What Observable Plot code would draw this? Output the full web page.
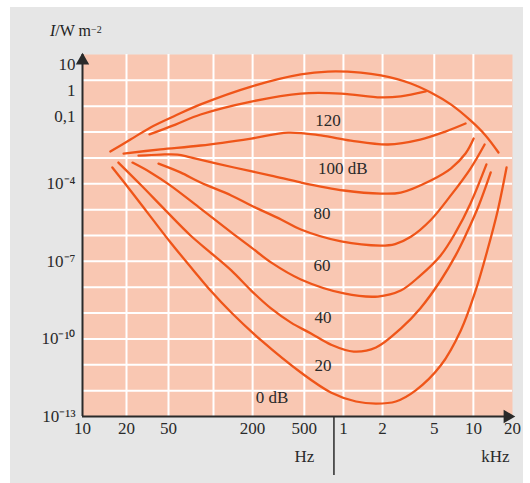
<!DOCTYPE html>
<html><head><meta charset="utf-8">
<script src="https://cdn.jsdelivr.net/npm/d3@7"></script>
<script src="https://cdn.jsdelivr.net/npm/@observablehq/plot@0.6"></script>
<style>
body{margin:0;background:#fff;}
#wrap{position:relative;width:530px;height:483px;overflow:hidden;}
#panel{position:absolute;left:10px;top:7px;width:513px;height:476px;background:#e6e6e6;}
#chart{position:absolute;left:0;top:0;}
#ylab{position:absolute;left:50px;top:22px;font:16px 'Liberation Serif',serif;color:#222;line-height:16px;white-space:nowrap;}
#ylab sup{font-size:10px;vertical-align:3px;}
</style></head>
<body><div id="wrap"><div id="panel"></div><div id="chart"></div><div id="ylab"><i>I</i>/W m<sup>−2</sup></div></div>
<script>
// frequencies (Hz) and intensity exponents (log10 of I in W m^-2)
const painHz   = [15.5, 21.8, 33.8, 55.7, 82, 195, 470, 760, 1360, 1940, 3300, 4700, 6700, 9500, 12400, 15600];
const painExp  = [-2.75, -2.29, -1.82, -1.36, -0.93, -0.24, 0.23, 0.34, 0.30, 0.19, -0.12, -0.47, -0.93, -1.55, -2.13, -2.79];
const feelHz   = [33, 55.7, 82, 195, 470, 960, 1940, 2760, 4300];
const feelExp  = [-2.09, -1.71, -1.32, -0.82, -0.51, -0.51, -0.66, -0.62, -0.43];
const db120Hz  = [19.1, 42, 82, 195, 375, 670, 1140, 2200, 3900, 6100, 8700];
const db120Exp = [-2.83, -2.67, -2.52, -2.25, -2.02, -2.13, -2.33, -2.48, -2.29, -1.98, -1.67];
const db100Hz  = [26, 42, 57.4, 70.2, 144, 277, 470, 1010, 1940, 2760, 4700, 6700, 8700, 10050];
const db100Exp = [-2.91, -2.87, -2.87, -2.98, -3.37, -3.68, -3.95, -4.26, -4.38, -4.34, -3.87, -3.41, -2.83, -2.25];
const db80Hz   = [40.2, 60.1, 82, 137, 195, 331, 470, 960, 1940, 2500, 3300, 4700, 6700, 9500, 12200];
const db80Exp  = [-3.22, -3.56, -3.95, -4.45, -4.84, -5.38, -5.77, -6.23, -6.39, -6.33, -6.05, -5.40, -4.45, -3.41, -2.48];
const db60Hz   = [22.8, 33.8, 51.6, 82, 137, 195, 277, 470, 1010, 1840, 2760, 3900, 5600, 7300, 9500, 12600];
const db60Exp  = [-3.18, -3.56, -4.07, -4.96, -5.88, -6.46, -7.04, -7.70, -8.24, -8.36, -8.13, -7.55, -6.77, -5.88, -4.76, -3.25];
const db40Hz   = [17.6, 27.1, 46.9, 70.2, 95.5, 137, 195, 277, 395, 563, 800, 1200, 1780, 2760, 3900, 5600, 7300, 8700, 11000, 13600];
const db40Exp  = [-3.18, -4.03, -5.03, -6.00, -6.66, -7.35, -8.13, -8.82, -9.37, -9.79, -10.22, -10.49, -10.33, -9.60, -8.82, -7.74, -6.77, -6.00, -4.84, -3.56];
const db20Hz   = [16, 21.8, 33.8, 51.6, 73.5, 95.5, 137, 233, 470, 800, 1250, 1780, 2530, 3600, 5600, 8000, 10400, 12800, 15400, 18000];
const db20Exp  = [-3.37, -4.26, -5.27, -6.27, -7.35, -8.13, -8.98, -10.06, -11.30, -12.07, -12.42, -12.50, -12.42, -11.99, -11.03, -9.67, -8.13, -6.58, -5.03, -3.37];

const curveLabels   = ["120", "100 dB", "80", "60", "40", "20", "0 dB"];
const curveLabelHz  = [760, 990, 684, 684, 696, 696, 282];
const curveLabelExp = [-1.55, -3.41, -5.15, -7.16, -9.17, -11.03, -12.27];

const xTicks      = [10, 20, 50, 200, 500, 1000, 2000, 5000, 10000, 20000];
const xTickLabels = ["10", "20", "50", "200", "500", "1", "2", "5", "10", "20"];
const xGrid       = [20, 50, 100, 200, 500, 1000, 2000, 5000, 10000];
const yTicksTop   = [10, 1, 0.1];
const yTicksLow   = [1e-4, 1e-7, 1e-10, 1e-13];
const yTickLabels = ["10", "1", "0,1", "10⁻⁴", "10⁻⁷", "10⁻¹⁰", "10⁻¹³"];
const yGrid       = [1, 0.1, 1e-2, 1e-3, 1e-4, 1e-5, 1e-6, 1e-7, 1e-8, 1e-9, 1e-10, 1e-11, 1e-12];
const splitHz     = 845;

const series = [
  ["pain", painHz, painExp], ["feel", feelHz, feelExp], ["120", db120Hz, db120Exp],
  ["100", db100Hz, db100Exp], ["80", db80Hz, db80Exp], ["60", db60Hz, db60Exp],
  ["40", db40Hz, db40Exp], ["20", db20Hz, db20Exp]
];
const rows = series.flatMap(([k, hz, ex]) => hz.map((f, i) => ({curve: k, f, I: Math.pow(10, ex[i])})));
const labelRows = curveLabels.map((t, i) => ({t, f: curveLabelHz[i], I: Math.pow(10, curveLabelExp[i])}));
const xTickRows = xTicks.map((f, i) => ({f, t: xTickLabels[i]}));

const yTickAll = [...yTicksTop, ...yTicksLow];
const yFmt = new Map(yTickAll.map((v, i) => [v, yTickLabels[i]]));

const serif = "'Liberation Serif', 'Times New Roman', serif";
const ink = "#2a2a2a";
const orange = "#ef5519";

const chart = Plot.plot({
  width: 530, height: 483,
  marginLeft: 82, marginRight: 18, marginTop: 54, marginBottom: 67,
  style: {background: "transparent", fontFamily: serif, fontSize: "17px", color: ink},
  // the original's low-frequency decades are drawn slightly unevenly: piecewise log scale
  x: {type: "log", domain: [10, 20, 50, 100, 20000], range: [82, 126, 168, 213, 512], axis: null},
  y: {type: "log", domain: [1e-13, 10]},
  marks: [
    Plot.frame({fill: "#f9c7b2", stroke: "none"}),
    Plot.gridX({ticks: xGrid, stroke: "#fff", strokeOpacity: 1, strokeWidth: 2}),
    Plot.gridY({ticks: yGrid, stroke: "#fff", strokeOpacity: 1, strokeWidth: 2}),
    Plot.line(rows, {x: "f", y: "I", z: "curve", stroke: orange, strokeWidth: 2.3, curve: "catmull-rom"}),
    Plot.text(labelRows, {x: "f", y: "I", text: "t", fill: ink, fontSize: 17}),
    Plot.ruleX([10], {stroke: ink, strokeWidth: 2}),
    Plot.ruleY([1e-13], {stroke: ink, strokeWidth: 2}),
    Plot.dot([10], {x: d => d, y: () => 10, symbol: "triangle", r: 5, fill: ink, stroke: null, dy: 6}),
    Plot.dot([20000], {x: d => d, y: () => 1e-13, symbol: "triangle", r: 5, fill: ink, stroke: null, rotate: 90, dx: -5}),
    Plot.ruleX([splitHz], {stroke: ink, strokeWidth: 1.5, insetTop: 362, insetBottom: -59}),
    Plot.text(xTickRows, {x: "f", text: "t", frameAnchor: "bottom", dy: 17, fill: ink}),
    Plot.axisY({ticks: yTicksLow, tickFormat: d => yFmt.get(d), tickSize: 0, tickPadding: 7, label: null, fill: ink}),
    Plot.axisY({ticks: yTicksTop, tickFormat: d => yFmt.get(d), tickSize: 0, tickPadding: 7, label: null, fill: ink, dy: 10}),
    Plot.text(["Hz"], {x: () => 500, frameAnchor: "bottom", dy: 45, text: d => d, fill: ink}),
    Plot.text(["kHz"], {x: () => 20000, frameAnchor: "bottom", dy: 45, dx: -3, textAnchor: "end", text: d => d, fill: ink})
  ]
});
document.getElementById("chart").appendChild(chart);
</script>
</body></html>
